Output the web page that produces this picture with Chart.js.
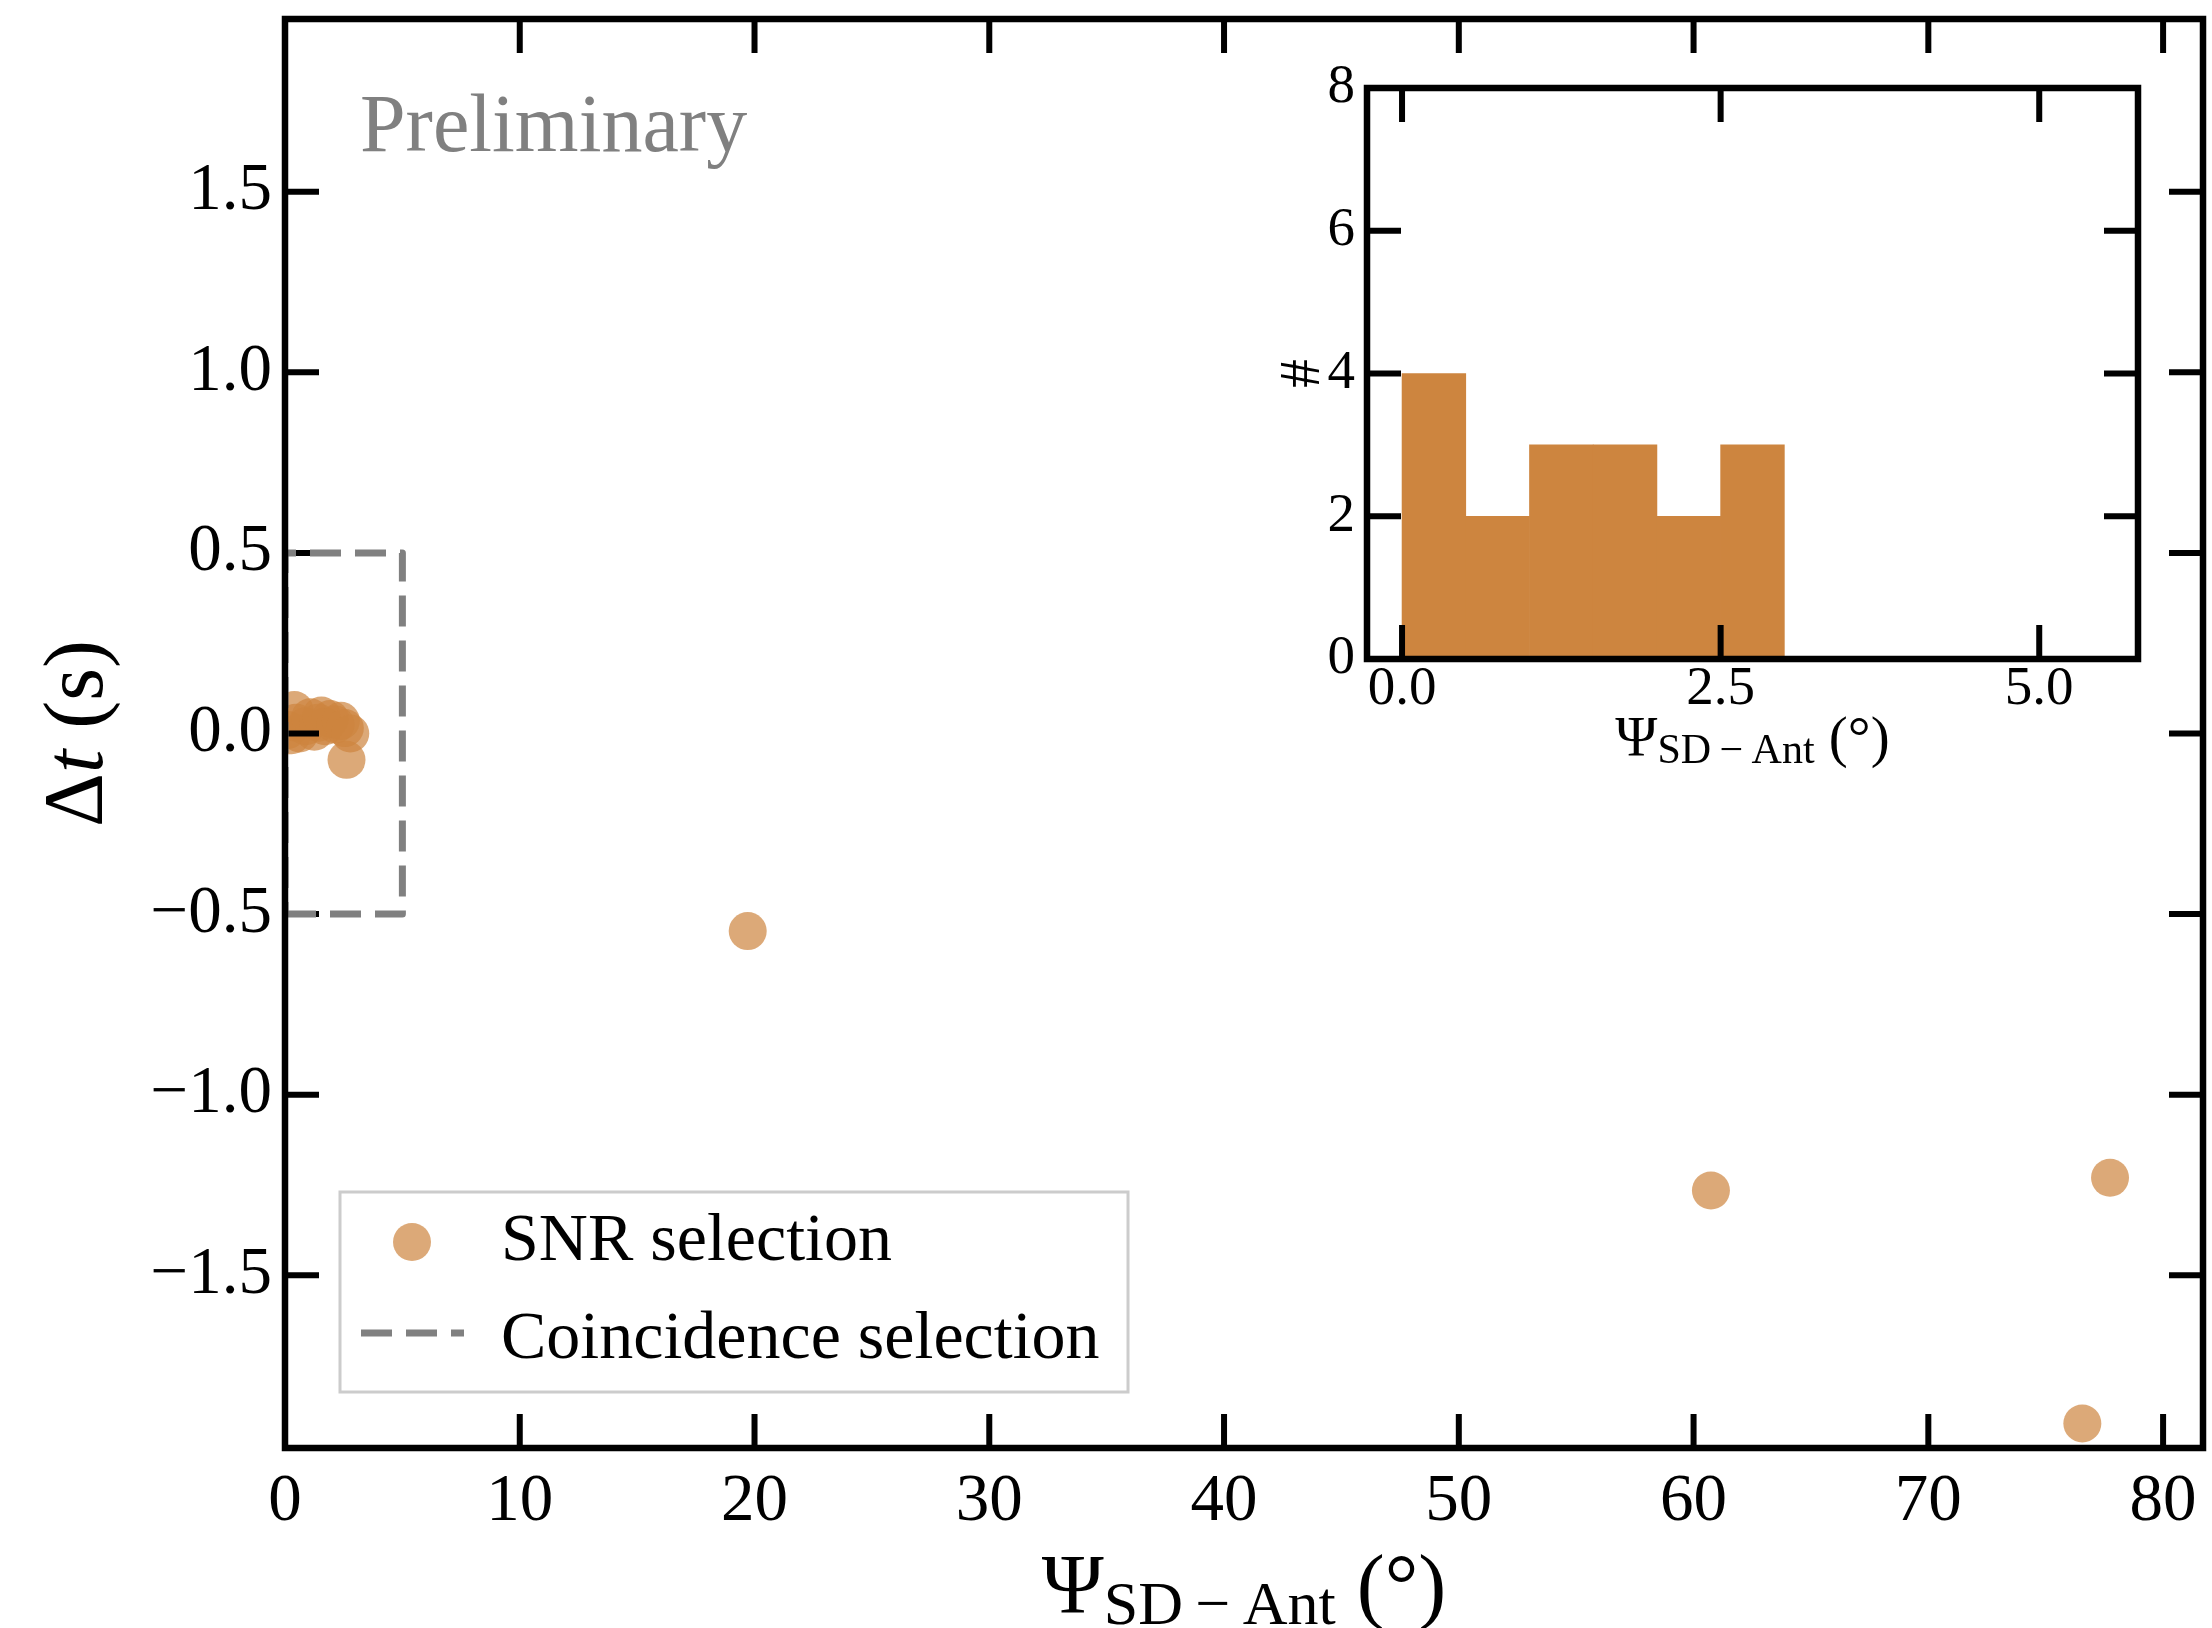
<!DOCTYPE html>
<html lang="en">
<head>
    <meta charset="UTF-8">
    <title>Δt vs Ψ SD-Ant</title>
    <script src="https://cdn.jsdelivr.net/npm/chart.js"></script>
    <style>
        html, body { margin: 0; padding: 0; background: #fff; }
        #wrap { position: relative; width: 2212px; height: 1628px; }
        #wrap canvas { position: absolute; left: 0; top: 0; }
    </style>
</head>
<body>
<div id="wrap">
    <canvas id="mainChart" width="2212" height="1628"></canvas>
    <canvas id="insetChart" width="2212" height="1628"></canvas>
</div>
<script>
    // values
    const psiSNR = [0.12, 0.28, 0.40, 0.47, 0.62, 0.88, 1.08, 1.25, 1.42, 1.55, 1.70, 1.92, 2.15, 2.38, 2.55, 2.62, 2.78, 19.71, 60.74, 76.56, 77.74];
    const dtSNR  = [0.01, -0.005, 0.065, 0.03, 0.0, 0.02, 0.045, 0.005, 0.03, 0.05, 0.02, 0.04, 0.025, 0.035, 0.015, -0.073, 0.0, -0.547, -1.265, -1.910, -1.230];

    // coincidence selection window
    const boxPsi = [0, 5, 5, 0, 0];
    const boxDt  = [-0.5, -0.5, 0.5, 0.5, -0.5];

    // inset histogram
    const histEdges  = [0, 0.5, 1.0, 1.5, 2.0, 2.5, 3.0];
    const histCounts = [4, 2, 3, 3, 2, 3];

    const mainXTicks  = [0, 10, 20, 30, 40, 50, 60, 70, 80];
    const mainYTicks  = [-1.5, -1.0, -0.5, 0.0, 0.5, 1.0, 1.5];
    const insetXTicks = [0, 2.5, 5.0];
    const insetYTicks = [0, 2, 4, 6, 8];

    const SERIF = "'Liberation Serif', 'DejaVu Serif', serif";
    const PERU = 'rgb(205, 133, 63)';
    const PERU_A = 'rgba(205, 133, 63, 0.7)';
    const GREY = '#808080';

    const fmt = v => v.toFixed(1).replace('-', '\u2212');

    // pin the plot box: no automatic label padding
    const noPad = s => { s.paddingLeft = 0; s.paddingRight = 0; s.paddingTop = 0; s.paddingBottom = 0; };

    function drawRuns(ctx, runs, cx, baseline) {
        let total = 0;
        runs.forEach(r => { ctx.font = r.font; r.w = ctx.measureText(r.text).width; total += r.w; });
        let x = cx - total / 2;
        ctx.textAlign = 'left';
        ctx.textBaseline = 'alphabetic';
        runs.forEach(r => {
            ctx.font = r.font;
            ctx.fillText(r.text, x, baseline + (r.dy || 0));
            x += r.w;
        });
    }

    function inwardTicks(chart, len, lw) {
        const { ctx, chartArea: a, scales: { x, y } } = chart;
        ctx.save();
        ctx.strokeStyle = '#000';
        ctx.lineWidth = lw;
        ctx.beginPath();
        x.ticks.forEach(t => {
            const px = x.getPixelForValue(t.value);
            ctx.moveTo(px, a.bottom); ctx.lineTo(px, a.bottom - len);
            ctx.moveTo(px, a.top); ctx.lineTo(px, a.top + len);
        });
        y.ticks.forEach(t => {
            const py = y.getPixelForValue(t.value);
            ctx.moveTo(a.left, py); ctx.lineTo(a.left + len, py);
            ctx.moveTo(a.right, py); ctx.lineTo(a.right - len, py);
        });
        ctx.stroke();
        ctx.restore();
    }

    function frame(chart, lw) {
        const { ctx, chartArea: a } = chart;
        ctx.save();
        ctx.strokeStyle = '#000';
        ctx.lineWidth = lw;
        ctx.lineJoin = 'miter';
        ctx.strokeRect(a.left, a.top, a.right - a.left, a.bottom - a.top);
        ctx.restore();
    }

    const mainDecor = {
        id: 'mainDecor',
        afterDatasetDraw(chart, args) {
            if (args.index === 1) inwardTicks(chart, 34, 6);
        },
        afterDatasetsDraw(chart) {
            frame(chart, 6.5);
        },
        afterDraw(chart) {
            const { ctx, chartArea: a } = chart;
            const cx = (a.left + a.right) / 2;
            const cy = (a.top + a.bottom) / 2;
            ctx.save();
            ctx.fillStyle = '#000';
            drawRuns(ctx, [
                { text: 'Ψ', font: `84px ${SERIF}` },
                { text: 'SD\u2009\u2212\u2009Ant', font: `62px ${SERIF}`, dy: 11 },
                { text: ' (', font: `84px ${SERIF}` },
                { text: '°', font: `84px ${SERIF}` },
                { text: ')', font: `84px ${SERIF}` }
            ], cx, 1613);

            ctx.save();
            ctx.translate(102, cy);
            ctx.rotate(-Math.PI / 2);
            drawRuns(ctx, [
                { text: 'Δ', font: `84px ${SERIF}` },
                { text: 't', font: `italic 84px ${SERIF}` },
                { text: ' (s)', font: `84px ${SERIF}` }
            ], 0, 0);
            ctx.restore();

            ctx.fillStyle = GREY;
            ctx.font = `82px ${SERIF}`;
            ctx.textAlign = 'left';
            ctx.fillText('Preliminary', 360, 151);

            // legend
            const ds = chart.data.datasets;
            ctx.fillStyle = 'rgba(255,255,255,0.8)';
            ctx.fillRect(340, 1192, 788, 200);
            ctx.strokeStyle = '#cccccc';
            ctx.lineWidth = 3;
            ctx.strokeRect(340, 1192, 788, 200);

            ctx.fillStyle = ds[1].backgroundColor;
            ctx.beginPath();
            ctx.arc(412, 1242, ds[1].pointRadius, 0, Math.PI * 2);
            ctx.fill();

            ctx.strokeStyle = ds[0].borderColor;
            ctx.lineWidth = ds[0].borderWidth;
            ctx.setLineDash(ds[0].borderDash);
            ctx.beginPath();
            ctx.moveTo(361, 1333);
            ctx.lineTo(464, 1333);
            ctx.stroke();
            ctx.setLineDash([]);

            ctx.fillStyle = '#000';
            ctx.font = `68px ${SERIF}`;
            ctx.fillText(ds[1].label, 501, 1260);
            ctx.fillText(ds[0].label, 501, 1358);
            ctx.restore();
        }
    };

    new Chart(document.getElementById('mainChart'), {
        type: 'scatter',
        data: {
            datasets: [{
                type: 'line',
                label: 'Coincidence selection',
                data: boxPsi.map((v, i) => ({ x: v, y: boxDt[i] })),
                showLine: true,
                borderColor: GREY,
                borderWidth: 7,
                borderDash: [31, 14],
                borderJoinStyle: 'round',
                pointRadius: 0,
                fill: false,
                tension: 0,
                clip: 0
            }, {
                label: 'SNR selection',
                data: psiSNR.map((v, i) => ({ x: v, y: dtSNR[i] })),
                backgroundColor: PERU_A,
                borderWidth: 0,
                pointRadius: 19,
                pointHoverRadius: 19,
                clip: 0
            }]
        },
        options: {
            responsive: false,
            animation: false,
            events: [],
            layout: { autoPadding: false, padding: { top: 19, right: 9, left: 0, bottom: 0 } },
            plugins: { legend: { display: false }, tooltip: { enabled: false } },
            scales: {
                x: {
                    type: 'linear', min: 0, max: 81.7,
                    afterBuildTicks: s => { s.ticks = mainXTicks.map(v => ({ value: v })); },
                    afterFit: s => { s.height = 180; noPad(s); },
                    grid: { display: false, drawTicks: false },
                    border: { display: false },
                    ticks: {
                        color: '#000', padding: 14, maxRotation: 0, autoSkip: false,
                        font: { family: SERIF, size: 67 },
                        callback: v => String(v)
                    }
                },
                y: {
                    type: 'linear', min: -1.978, max: 1.978,
                    afterBuildTicks: s => { s.ticks = mainYTicks.map(v => ({ value: v })); },
                    afterFit: s => { s.width = 285; noPad(s); },
                    grid: { display: false, drawTicks: false },
                    border: { display: false },
                    ticks: {
                        color: '#000', padding: 13, autoSkip: false,
                        font: { family: SERIF, size: 67 },
                        callback: v => fmt(v)
                    }
                }
            }
        },
        plugins: [mainDecor]
    });

    const insetDecor = {
        id: 'insetDecor',
        beforeDatasetsDraw(chart) {
            const { ctx, chartArea: a } = chart;
            ctx.save();
            ctx.fillStyle = '#fff';
            ctx.fillRect(a.left, a.top, a.right - a.left, a.bottom - a.top);
            ctx.restore();
        },
        afterDatasetsDraw(chart) {
            inwardTicks(chart, 34, 6);
            frame(chart, 6.5);
        },
        afterDraw(chart) {
            const { ctx, chartArea: a } = chart;
            ctx.save();
            ctx.fillStyle = '#000';
            drawRuns(ctx, [
                { text: 'Ψ', font: `57px ${SERIF}` },
                { text: 'SD\u2009\u2212\u2009Ant', font: `42px ${SERIF}`, dy: 7 },
                { text: ' (', font: `57px ${SERIF}` },
                { text: '°', font: `57px ${SERIF}` },
                { text: ')', font: `57px ${SERIF}` }
            ], (a.left + a.right) / 2, 756);

            ctx.translate(1319, (a.top + a.bottom) / 2);
            ctx.rotate(-Math.PI / 2);
            drawRuns(ctx, [{ text: '#', font: `57px ${SERIF}` }], 0, 0);
            ctx.restore();
        }
    };

    new Chart(document.getElementById('insetChart'), {
        type: 'bar',
        data: {
            datasets: [{
                label: 'hist',
                data: histCounts.map((c, i) => ({ x: (histEdges[i] + histEdges[i + 1]) / 2, y: c })),
                backgroundColor: PERU,
                borderWidth: 0,
                barPercentage: 1,
                categoryPercentage: 1
            }]
        },
        options: {
            responsive: false,
            animation: false,
            events: [],
            layout: { autoPadding: false, padding: { top: 88, right: 74, left: 0, bottom: 0 } },
            plugins: { legend: { display: false }, tooltip: { enabled: false } },
            scales: {
                x: {
                    type: 'linear', min: -0.275, max: 5.775, offset: false,
                    afterBuildTicks: s => { s.ticks = insetXTicks.map(v => ({ value: v })); },
                    afterFit: s => { s.height = 969; noPad(s); },
                    grid: { display: false, drawTicks: false },
                    border: { display: false },
                    ticks: {
                        color: '#000', padding: 3, maxRotation: 0, autoSkip: false,
                        font: { family: SERIF, size: 55, lineHeight: 1 },
                        callback: v => v.toFixed(1)
                    }
                },
                y: {
                    type: 'linear', min: 0, max: 8,
                    afterBuildTicks: s => { s.ticks = insetYTicks.map(v => ({ value: v })); },
                    afterFit: s => { s.width = 1367; noPad(s); },
                    grid: { display: false, drawTicks: false },
                    border: { display: false },
                    ticks: {
                        color: '#000', padding: 12, autoSkip: false,
                        font: { family: SERIF, size: 55 },
                        callback: v => String(v)
                    }
                }
            }
        },
        plugins: [insetDecor]
    });
</script>
</body>
</html>
